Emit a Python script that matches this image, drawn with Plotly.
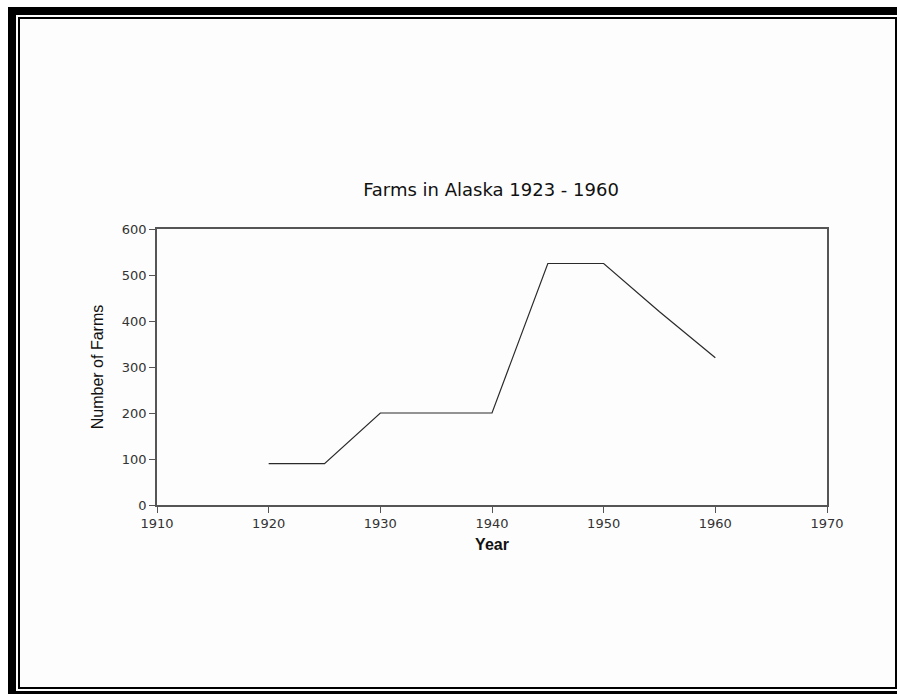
import plotly.graph_objects as go

years = [1920, 1925, 1930, 1940, 1945, 1950, 1955, 1960]
farms = [90, 90, 200, 200, 525, 525, 420, 320]
x_ticks = [1910, 1920, 1930, 1940, 1950, 1960, 1970]
y_ticks = [0, 100, 200, 300, 400, 500, 600]

W, H = 897, 694
L, R, T, B = 157, 827, 229, 505


def px(x):
    return (x - L) / (R - L)


def py(y):
    return (B - y) / (B - T)


fig = go.Figure()
fig.add_trace(go.Scatter(x=years, y=farms, mode="lines",
                         line=dict(color="#2a2a2a", width=1.2),
                         showlegend=False, hoverinfo="x+y"))

tick_font = dict(family="DejaVu Sans, Arial, sans-serif", size=13, color="#333333")

fig.update_layout(
    width=W, height=H,
    margin=dict(l=L, r=W - R, t=T, b=H - B, pad=0),
    paper_bgcolor="#fdfdfd",
    plot_bgcolor="#fdfdfd",
    title=dict(text="Farms in Alaska 1923 - 1960",
               font=dict(family="DejaVu Sans, Arial, sans-serif", size=18, color="#111111"),
               x=491 / W, xanchor="center", xref="container",
               y=1 - 190 / H, yanchor="middle", yref="container"),
    xaxis=dict(range=[1910, 1970], tickvals=x_ticks, ticktext=[str(v) for v in x_ticks],
               showgrid=False, zeroline=False, showline=True, linecolor="#555555", linewidth=1.5,
               mirror=True, ticks="outside", ticklen=6, tickcolor="#555555", tickwidth=1,
               tickfont=tick_font,
               title=dict(text="<b>Year</b>", standoff=8,
                          font=dict(family="Liberation Sans, Arial, sans-serif", size=16, color="#111111"))),
    yaxis=dict(range=[0, 600], tickvals=y_ticks, ticktext=[str(v) for v in y_ticks],
               showgrid=False, zeroline=False, showline=True, linecolor="#555555", linewidth=1.5,
               mirror=True, ticks="outside", ticklen=6, tickcolor="#555555", tickwidth=1,
               tickfont=tick_font,
               title=dict(text="Number of Farms", standoff=14,
                          font=dict(family="Liberation Sans Narrow, Arial Narrow, Liberation Sans, sans-serif",
                                    size=16, color="#111111"))),
)

# page frame (pixel positions converted to paper coordinates)
frame_rects = [
    (0, 0, 8, 694),       # white margin left of the frame
    (8, 7, 16, 694),      # thick left band
    (8, 7, 897, 15),      # thick top band
    (16, 691, 897, 694),  # thick bottom band
    (18, 17, 897, 19),    # thin top line
    (18, 17, 20, 689),    # thin left line
    (18, 687, 897, 689),  # thin bottom line
    (895, 17, 897, 689),  # thin right line
]
for i, (x0, y0, x1, y1) in enumerate(frame_rects):
    fig.add_shape(type="rect", xref="paper", yref="paper",
                  x0=px(x0), x1=px(x1), y0=py(y1), y1=py(y0),
                  fillcolor="white" if i == 0 else "black", line=dict(width=0), layer="above")
fig.add_shape(type="rect", xref="paper", yref="paper",
              x0=px(0), x1=px(897), y0=py(7), y1=py(0),
              fillcolor="white", line=dict(width=0), layer="above")

fig.write_html("out.html", config={"displayModeBar": False},
               post_script="document.body.style.margin='0';document.body.style.overflow='hidden';")
